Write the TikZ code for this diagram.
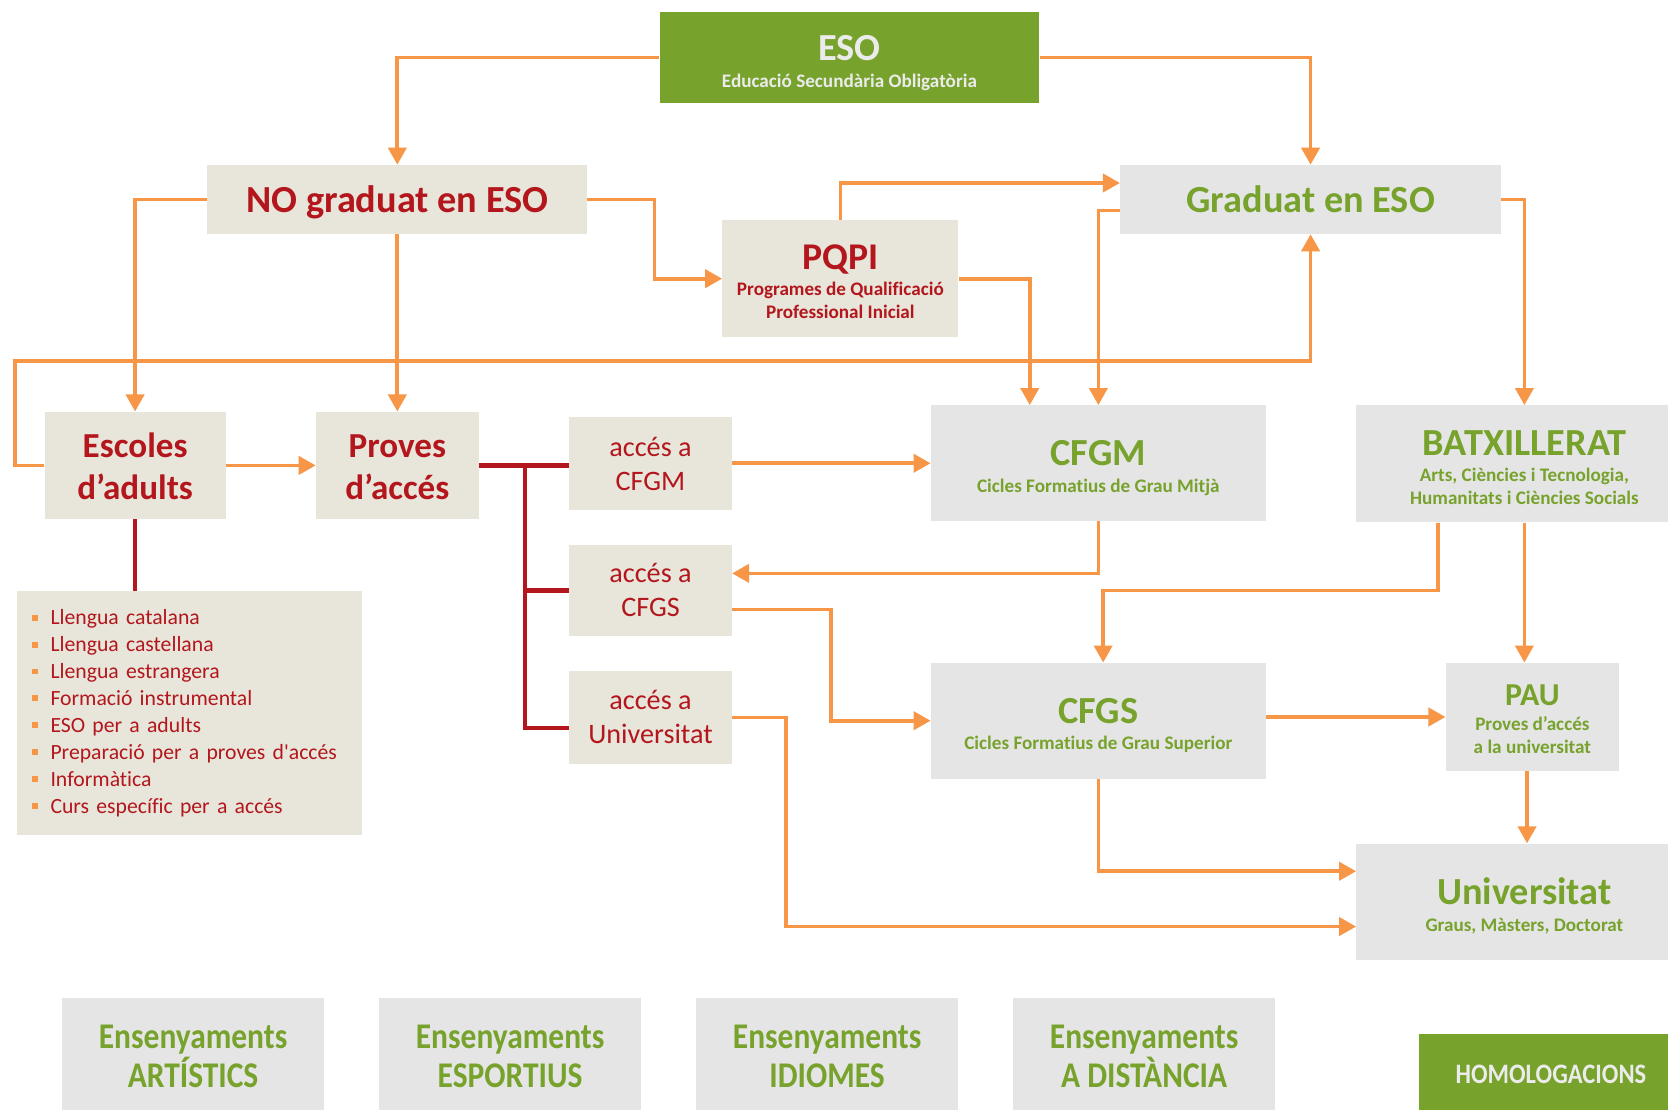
\documentclass[tikz,border=0pt]{standalone}
\usepackage{fontspec}
\newfontfamily\calfont{Carlito}[Ligatures=NoCommon]
\newfontfamily\condfont{Carlito}[FakeStretch=0.87,Ligatures=NoCommon]
\usetikzlibrary{arrows.meta,calc}
\definecolor{orng}{HTML}{F79646}
\definecolor{grn}{HTML}{77A22C}
\definecolor{dred}{HTML}{B3161C}
\definecolor{beige}{HTML}{E8E5DA}
\definecolor{lgray}{HTML}{E5E5E5}
\definecolor{etext}{HTML}{EBEBEB}
\newcommand\fs[2]{\fontsize{#1}{#2}\selectfont}
\newcommand\bul{{\color{orng}\rule[4pt]{5.5pt}{5.5pt}}\hspace{12pt}}
% first line with a fixed height, last line with no depth: fixes the baselines
\newcommand\firstl[2]{\raisebox{0pt}[#1][0pt]{#2}}
\newcommand\lastl[1]{\raisebox{0pt}[\height][0pt]{#1}}
\newcommand\ttl[1]{\fs{36}{40}#1}
\tikzset{
  box/.style={inner sep=0pt, align=center, anchor=center},
  redbox/.style={box, fill=beige, text=dred},
  graybox/.style={box, fill=lgray, text=grn},
  greenbox/.style={box, fill=grn, text=etext},
  subt/.style={font=\calfont\bfseries\fs{18}{21.5}},
  bigt/.style={font=\calfont\bfseries\fs{36}{40}},
  acc/.style={redbox, font=\calfont\fs{26.5}{32}, minimum width=153pt},
  ens/.style={graybox, font=\condfont\bfseries\fs{34}{36}, minimum width=247pt, minimum height=110pt},
  arr/.style={draw=orng, line width=3.5pt, -{Triangle[length=16pt,width=17pt]}},
  redl/.style={draw=dred, line width=4pt},
}
\begin{document}
\begin{tikzpicture}[x=1pt,y=-1pt]
\fill[white] (0,0) rectangle (1568,1043);
\clip (0,0) rectangle (1568,1043);

% boxes
\node[greenbox, subt, minimum width=357pt, minimum height=86pt] (eso) at (798.5,54)
  {\firstl{31pt}{\ttl{ESO}}\\[3.5pt]\lastl{Educació Secundària Obligatòria}};
\node[redbox, bigt, minimum width=357pt, minimum height=65pt] (nog) at (373.5,187.5)
  {\firstl{25pt}{NO graduat en ESO}};
\node[redbox, subt, minimum width=222pt, minimum height=110pt] (pqpi) at (790,262)
  {\firstl{29pt}{\fs{35.5}{40}PQPI}\\[3.5pt]Programes de Qualificació\\\lastl{Professional Inicial}};
\node[graybox, bigt, minimum width=358pt, minimum height=65pt] (grad) at (1232,187.5)
  {\firstl{25pt}{Graduat en ESO}};
\node[redbox, font=\calfont\bfseries\fs{33}{40}, minimum width=170pt, minimum height=101pt] (esc) at (127,437.5)
  {\firstl{25pt}{Escoles}\\\lastl{d’adults}};
\node[redbox, font=\calfont\bfseries\fs{33}{40}, minimum width=153pt, minimum height=101pt] (prov) at (373.5,437.5)
  {\firstl{25pt}{Proves}\\\lastl{d’accés}};
\node[fill=beige, text=dred, font=\calfont\fs{20.4}{25.3}, align=left, text width=296pt,
      inner xsep=14pt, inner ysep=0pt, minimum width=324pt, minimum height=229pt] (llista) at (178,670.5)
  {\bul Llengua catalana\\
   \bul Llengua castellana\\
   \bul Llengua estrangera\\
   \bul Formació instrumental\\
   \bul ESO per a adults\\
   \bul Preparació per a proves d'accés\\
   \bul Informàtica\\
   \bul Curs específic per a accés};
\node[acc, minimum height=87pt] (acfgm) at (611.5,435.5)
  {\firstl{19pt}{accés a}\\\lastl{CFGM}};
\node[acc, minimum height=86pt] (acfgs) at (611.5,555)
  {\firstl{18pt}{accés a}\\\lastl{CFGS}};
\node[acc, minimum height=87pt] (auni) at (611.5,674.5)
  {\firstl{17pt}{accés a}\\\lastl{Universitat}};
\node[graybox, subt, minimum width=315pt, minimum height=109pt] (cfgm) at (1032.5,435.5)
  {\firstl{30pt}{\ttl{CFGM}}\\[3.5pt]\lastl{Cicles Formatius de Grau Mitjà}};
\node[graybox, subt, minimum width=316pt, minimum height=110pt] (batx) at (1433,436)
  {\firstl{30pt}{\ttl{BATXILLERAT}}\\[3.5pt]Arts, Ciències i Tecnologia,\\\lastl{Humanitats i Ciències Socials}};
\node[graybox, subt, minimum width=315pt, minimum height=109pt] (cfgs) at (1032.5,677.5)
  {\firstl{30pt}{\ttl{CFGS}}\\[3.5pt]\lastl{Cicles Formatius de Grau Superior}};
\node[graybox, subt, minimum width=163pt, minimum height=102pt] (pau) at (1440.5,674)
  {\firstl{23pt}{\fs{30}{34}PAU}\\[2.5pt]Proves d’accés\\\lastl{a la universitat}};
\node[graybox, subt, minimum width=316pt, minimum height=109pt] (univ) at (1433,847.5)
  {\firstl{31pt}{\ttl{Universitat}}\\[4.5pt]\lastl{Graus, Màsters, Doctorat}};

\node[ens] (art) at (181.5,993) {Ensenyaments\\ARTÍSTICS};
\node[ens] (esp) at (479.5,993) {Ensenyaments\\ESPORTIUS};
\node[ens] (idi) at (777.5,993) {Ensenyaments\\IDIOMES};
\node[ens] (dist) at (1075.5,993) {Ensenyaments\\A DISTÀNCIA};
\node[greenbox, font=\condfont\bfseries\fs{26.5}{30}, minimum width=248pt, minimum height=76pt] (homol) at (1458,1010)
  {HOMOLOGACIONS};

% orange connectors
\draw[arr] (eso.west) -| (nog.north);
\draw[arr] (eso.east) -| (grad.north);
\draw[arr] (nog.east) -- ++(63,0) |- (pqpi.west);
\draw[arr] (nog.south) -- (prov.north);
\draw[arr] (nog.west) -| (esc.north);
\draw[arr] (pqpi.north) |- ($(grad.west)+(0,-15.5)$);
\draw[arr] (pqpi.east) -| ($(cfgm.north)+(-64.5,0)$);
\draw[arr] ($(grad.west)+(0,10.5)$) -| (cfgm.north);
\draw[arr] (esc.west) -- ++(-28,0) |- ($(grad.south)+(0,119)$) -- (grad.south);
\draw[arr] (esc.east) -- (prov.west);
\draw[arr] (grad.east) -| (batx.north);
\draw[arr] (acfgm.east) -- (cfgm.west);
\draw[arr] (cfgm.south) |- ($(acfgs.east)+(0,-16)$);
\draw[arr] ($(acfgs.east)+(0,18)$) -- ++(93,0) |- (cfgs.west);
\draw[arr] ($(batx.south)+(-81,0)$) -- ++(0,64) -| ($(cfgs.north)+(4.5,0)$);
\draw[arr] (batx.south) -- (batx.south |- pau.north);
\draw[arr] (cfgs.east |- pau.west) -- (pau.west);
\draw[arr] ($(pau.south)+(-5,0)$) -- ($(pau.south |- univ.north)+(-5,0)$);
\draw[arr] (cfgs.south) |- ($(univ.west)+(0,-28.5)$);
\draw[arr] (auni.east) -- ++(51,0) |- ($(univ.west)+(0,23.5)$);

% red connectors
\coordinate (bus) at ($(prov.east)+(43,0)$);
\coordinate (ubr) at ($(auni.west)+(0,9.5)$);
\draw[redl] (prov.east) -- (prov.east -| acfgm.west);
\draw[redl] (bus) |- (ubr);
\draw[redl] (bus |- acfgs.west) -- (acfgs.west);
\draw[redl] (esc.south) -- (esc.south |- llista.north);
\end{tikzpicture}
\end{document}
